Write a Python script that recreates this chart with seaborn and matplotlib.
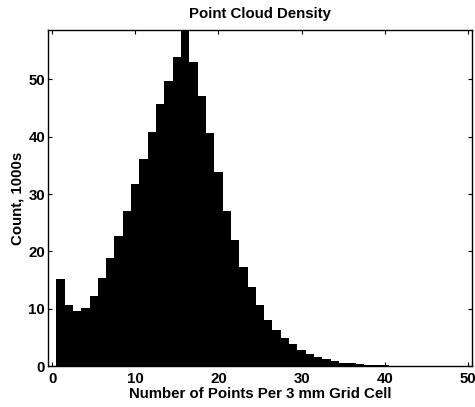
import numpy as np
import pandas as pd
import matplotlib
matplotlib.use("Agg")
import matplotlib.pyplot as plt
import seaborn as sns

# Data (counts in thousands per integer bin)
bin_centers = list(range(1, 43))
counts = [15.1, 10.6, 9.6, 10.2, 12.2, 15.4, 18.8, 22.7, 27.0, 31.8,
          36.1, 40.8, 45.7, 49.8, 53.9, 59.5, 53.1, 47.1, 40.7, 33.9,
          27.0, 22.0, 17.2, 13.7, 10.6, 8.0, 6.3, 4.9, 3.8, 2.8,
          2.1, 1.5, 1.15, 0.8, 0.6, 0.45, 0.3, 0.2, 0.15, 0.1,
          0.05, 0.03]
x_ticks = [0, 10, 20, 30, 40, 50]
y_ticks = [0, 10, 20, 30, 40, 50]

title = "Point Cloud Density"
xlabel = "Number of Points Per 3 mm Grid Cell"
ylabel = "Count, 1000s"

sns.set_style("ticks")
plt.rcParams['font.family'] = ['Liberation Sans', 'DejaVu Sans']
plt.rcParams['font.weight'] = 'bold'
plt.rcParams['text.color'] = 'black'
plt.rcParams['axes.labelcolor'] = 'black'

FS = 10.8

df = pd.DataFrame({"points": bin_centers, "count": counts})

fig = plt.figure(figsize=(4.75, 4.07), dpi=100)
ax = fig.add_axes([0.101, 0.1007, 0.8927, 0.8253])

sns.histplot(data=df, x="points", weights="count", discrete=True,
             color="black", edgecolor="black", linewidth=0, alpha=1.0, ax=ax)

ax.set_xlim(-0.5, 50.5)
ax.set_ylim(0, 58.6)
ax.set_xticks(x_ticks)
ax.set_yticks(y_ticks)
ax.set_xticklabels([str(v) for v in x_ticks], fontsize=FS, fontweight='bold', color='black')
ax.set_yticklabels([str(v) for v in y_ticks], fontsize=FS, fontweight='bold', color='black')
ax.tick_params(direction='in', length=3, width=0.8, top=True, right=True,
               pad=2, colors='black')
ax.tick_params(axis='x', pad=4)
for s in ax.spines.values():
    s.set_visible(True)
    s.set_color('black')
    s.set_linewidth(1.0)

ax.set_title(title, fontsize=FS, fontweight='bold', pad=9, color='black')
ax.set_xlabel(xlabel, fontsize=FS, fontweight='bold', labelpad=1, color='black')
ax.set_ylabel(ylabel, fontsize=FS, fontweight='bold', labelpad=3, color='black')

fig.savefig("out.png", dpi=100)
